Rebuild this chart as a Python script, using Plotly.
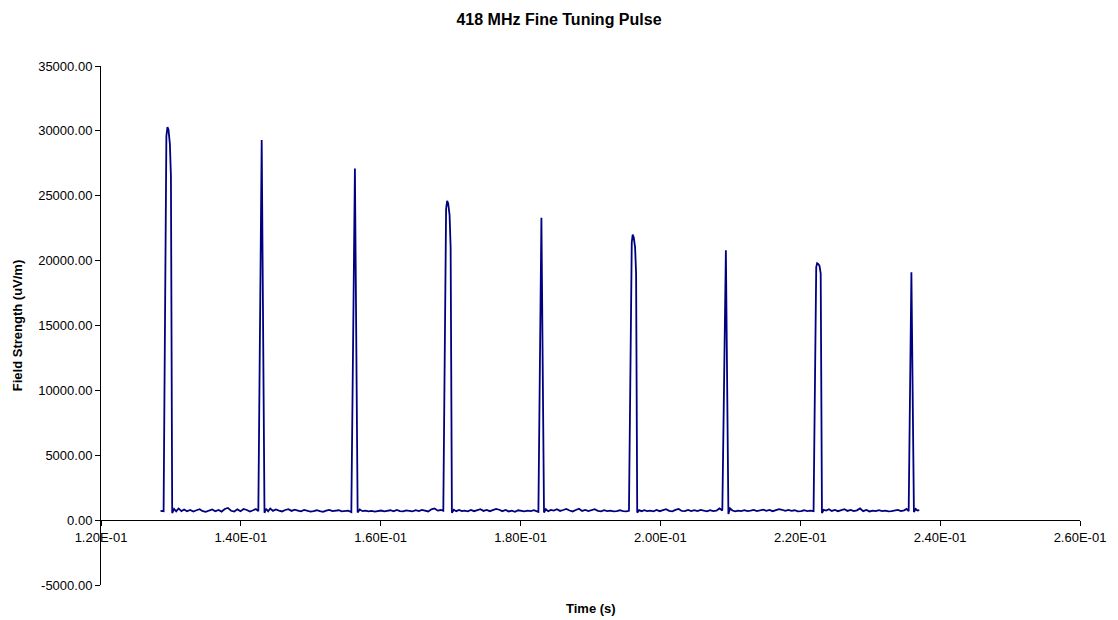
import plotly.graph_objects as go

# Sampled pulse train: time (s) and field strength (uV/m)
time_s = [
    0.12851, 0.12880,
    # pulse 1
    0.12895, 0.12935, 0.12950, 0.12965, 0.12985, 0.13000, 0.13018,
    0.13045, 0.13075, 0.13110, 0.13150, 0.13190, 0.13230, 0.13275, 0.13320,
    0.13365, 0.13410, 0.13455, 0.13500, 0.13545, 0.13590, 0.13635, 0.13680,
    0.13725, 0.13770, 0.13815, 0.13860, 0.13905, 0.13950, 0.13995, 0.14040,
    0.14085, 0.14130, 0.14175, 0.14215, 0.14250,
    # pulse 2
    0.14298, 0.14338,
    0.14360, 0.14390, 0.14420, 0.14460, 0.14500, 0.14545, 0.14590, 0.14635,
    0.14680, 0.14725, 0.14770, 0.14815, 0.14860, 0.14905, 0.14950, 0.14995,
    0.15040, 0.15085, 0.15130, 0.15175, 0.15220, 0.15265, 0.15310, 0.15355,
    0.15400, 0.15445, 0.15490, 0.15535, 0.15580,
    # pulse 3
    0.15631, 0.15670,
    0.15700, 0.15740, 0.15780, 0.15825, 0.15870, 0.15915, 0.15960, 0.16005,
    0.16050, 0.16095, 0.16140, 0.16185, 0.16230, 0.16275, 0.16320, 0.16365,
    0.16410, 0.16455, 0.16500, 0.16545, 0.16590, 0.16635, 0.16680, 0.16725,
    0.16770, 0.16815, 0.16860, 0.16895,
    # pulse 4
    0.16935, 0.16950, 0.16965, 0.16985, 0.17000, 0.17018,
    0.17045, 0.17080, 0.17120, 0.17160, 0.17200, 0.17245, 0.17290, 0.17335,
    0.17380, 0.17425, 0.17470, 0.17515, 0.17560, 0.17605, 0.17650, 0.17695,
    0.17740, 0.17785, 0.17830, 0.17875, 0.17920, 0.17965, 0.18010, 0.18055,
    0.18100, 0.18145, 0.18190, 0.18230, 0.18255,
    # pulse 5
    0.18298, 0.18335,
    0.18360, 0.18395, 0.18435, 0.18475, 0.18520, 0.18565, 0.18610, 0.18655,
    0.18700, 0.18745, 0.18790, 0.18835, 0.18880, 0.18925, 0.18970, 0.19015,
    0.19060, 0.19105, 0.19150, 0.19195, 0.19240, 0.19285, 0.19330, 0.19375,
    0.19420, 0.19465, 0.19510, 0.19550,
    # pulse 6
    0.19590, 0.19603, 0.19618, 0.19638, 0.19652, 0.19668,
    0.19695, 0.19730, 0.19770, 0.19810, 0.19855, 0.19900, 0.19945, 0.19990,
    0.20035, 0.20080, 0.20125, 0.20170, 0.20215, 0.20260, 0.20305, 0.20350,
    0.20395, 0.20440, 0.20485, 0.20530, 0.20575, 0.20620, 0.20665, 0.20710,
    0.20755, 0.20800, 0.20845, 0.20885,
    # pulse 7
    0.20936, 0.20972,
    0.20995, 0.21030, 0.21070, 0.21110, 0.21155, 0.21200, 0.21245, 0.21290,
    0.21335, 0.21380, 0.21425, 0.21470, 0.21515, 0.21560, 0.21605, 0.21650,
    0.21695, 0.21740, 0.21785, 0.21830, 0.21875, 0.21920, 0.21965, 0.22010,
    0.22055, 0.22100, 0.22145, 0.22190,
    # pulse 8
    0.22228, 0.22241, 0.22256, 0.22275, 0.22292, 0.22310,
    0.22335, 0.22370, 0.22410, 0.22450, 0.22495, 0.22540, 0.22585, 0.22630,
    0.22675, 0.22720, 0.22765, 0.22810, 0.22855, 0.22900, 0.22945, 0.22990,
    0.23035, 0.23080, 0.23125, 0.23170, 0.23215, 0.23260, 0.23305, 0.23350,
    0.23395, 0.23440, 0.23485, 0.23520, 0.23550,
    # pulse 9
    0.23589, 0.23625, 0.23650, 0.23675, 0.23702,
]

field_uv_m = [
    720, 700,
    690, 29600, 30300, 30100, 29000, 26500, 540,
    860, 680, 900, 700, 820, 680, 780, 660,
    760, 840, 690, 640, 740, 820, 680, 780,
    660, 860, 940, 720, 660, 830, 690, 860,
    780, 660, 760, 860, 690,
    29300, 560,
    880, 680, 900, 710, 820, 740, 670, 780,
    840, 710, 800, 740, 680, 780, 720, 660,
    700, 760, 690, 640, 730, 790, 690, 720,
    760, 670, 700, 730, 620,
    27100, 580,
    820, 690, 730, 670, 710, 650, 690, 740,
    670, 700, 760, 680, 790, 700, 670, 750,
    700, 680, 760, 690, 790, 720, 670, 830,
    900, 730, 780, 720,
    24000, 24600, 24400, 23500, 21000, 560,
    800, 690, 790, 690, 730, 680, 790, 690,
    760, 840, 710, 780, 690, 750, 860, 800,
    690, 780, 670, 730, 640, 760, 700, 670,
    730, 690, 760, 700, 630,
    23300, 580,
    840, 690, 790, 740, 840, 710, 780, 860,
    740, 670, 780, 880, 710, 780, 690, 750,
    840, 710, 680, 760, 690, 730, 670, 700,
    760, 690, 670, 720,
    21400, 22000, 21800, 21000, 19000, 580,
    770, 690, 760, 690, 730, 680, 790, 690,
    760, 840, 710, 670, 790, 860, 710, 690,
    790, 690, 760, 690, 790, 720, 670, 760,
    690, 730, 900, 740,
    20800, 480,
    900, 740, 670, 730, 690, 760, 690, 730,
    790, 690, 750, 810, 710, 790, 690, 760,
    840, 800, 710, 780, 710, 760, 670, 700,
    760, 690, 730, 690,
    19500, 19800, 19750, 19600, 19000, 540,
    790, 740, 840, 710, 790, 690, 760, 840,
    710, 790, 690, 750, 900, 690, 790, 670,
    730, 690, 760, 690, 730, 670, 700, 730,
    790, 690, 750, 860, 690,
    19100, 620, 860, 740, 770,
]

x_ticks = [0.12, 0.14, 0.16, 0.18, 0.20, 0.22, 0.24, 0.26]
x_tick_labels = [f"{v:.2E}" for v in x_ticks]
y_ticks = [-5000, 0, 5000, 10000, 15000, 20000, 25000, 30000, 35000]
y_tick_labels = [f"{v:.2f}" for v in y_ticks]

FONT = "Liberation Sans, Arial, sans-serif"

fig = go.Figure(
    go.Scatter(
        x=time_s,
        y=field_uv_m,
        mode="lines",
        line=dict(color="#000080", width=1.8),
        showlegend=False,
    )
)

fig.update_layout(
    width=1118,
    height=620,
    margin=dict(l=101, r=30, t=66, b=35),
    paper_bgcolor="white",
    plot_bgcolor="white",
    font=dict(family=FONT, size=13, color="black"),
    title=dict(
        text="<b>418 MHz Fine Tuning Pulse</b>",
        x=0.5,
        xref="container",
        xanchor="center",
        y=1 - 19 / 620,
        yref="container",
        yanchor="middle",
        font=dict(family=FONT, size=16, color="black"),
    ),
    xaxis=dict(
        range=[0.12, 0.26],
        tickvals=x_ticks,
        ticktext=x_tick_labels,
        anchor="free",
        position=0.125,  # crosses the value axis at 0
        showline=True,
        linecolor="black",
        linewidth=1,
        ticks="outside",
        ticklen=5,
        tickcolor="black",
        showgrid=False,
        zeroline=False,
        tickfont=dict(family=FONT, size=13, color="black"),
    ),
    yaxis=dict(
        range=[-5000, 35000],
        tickvals=y_ticks,
        ticktext=y_tick_labels,
        showline=True,
        linecolor="black",
        linewidth=1,
        ticks="outside",
        ticklen=5,
        tickcolor="black",
        showgrid=False,
        zeroline=False,
        tickfont=dict(family=FONT, size=13, color="black"),
    ),
    annotations=[
        dict(
            text="<b>Time (s)</b>",
            xref="paper",
            yref="paper",
            x=0.5,
            y=(585 - 608) / 519,
            xanchor="center",
            yanchor="middle",
            showarrow=False,
            font=dict(family=FONT, size=13, color="black"),
        ),
        dict(
            text="<b>Field Strength (uV/m)</b>",
            xref="paper",
            yref="paper",
            x=(17 - 101) / 987,
            y=0.5,
            xanchor="center",
            yanchor="middle",
            textangle=-90,
            showarrow=False,
            font=dict(family=FONT, size=13, color="black"),
        ),
    ],
)

fig.write_html("out.html")
